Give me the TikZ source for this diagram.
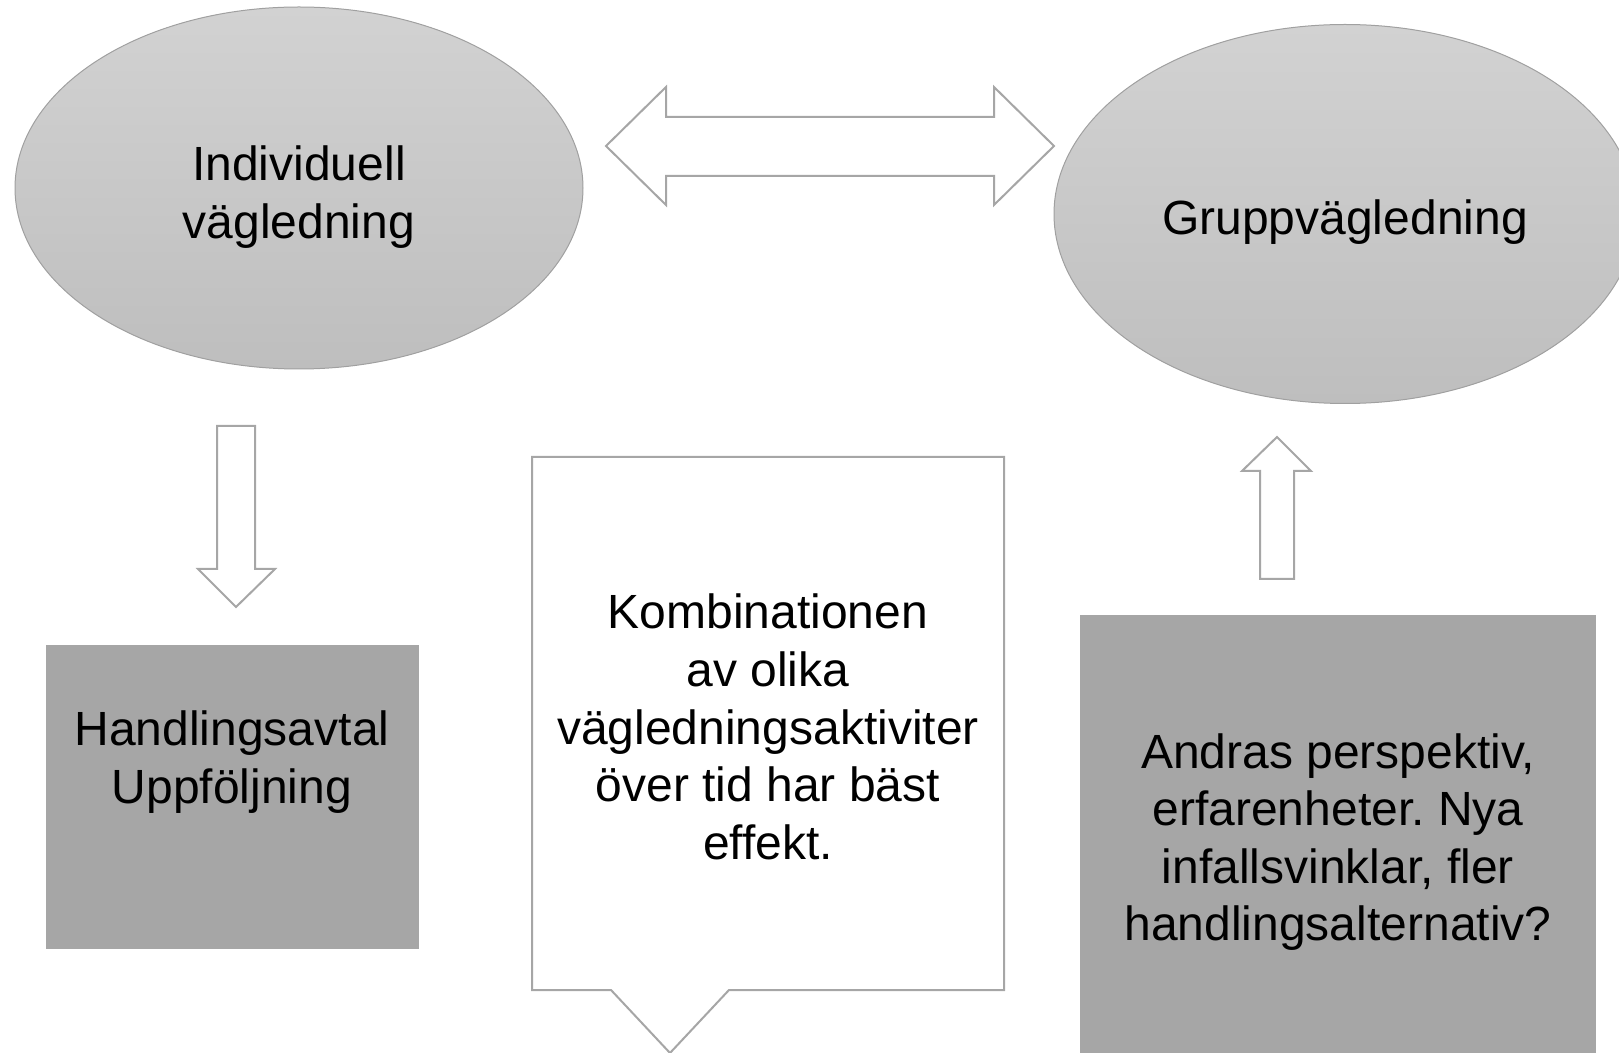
\documentclass[tikz,border=0pt]{standalone}
\usepackage{fontspec}
\setmainfont{Liberation Sans}
\frenchspacing
\usetikzlibrary{shapes.geometric}
\definecolor{vgline} {RGB}{166,166,166}
\definecolor{vgedge} {RGB}{160,160,160}
\definecolor{vgtop}  {RGB}{210,210,210}
\definecolor{vgbot}  {RGB}{190,190,190}
\definecolor{vgbox}  {RGB}{166,166,166}
\tikzset{form oval/.style={
    ellipse, inner sep=0pt,
    draw=vgedge, line width=0.5pt,
    top color=vgtop, bottom color=vgbot
}}
\tikzset{note box/.style={
    rectangle, inner sep=0pt,
    fill=vgbox,
    align=center, node font=\fontsize{24}{28.8}\selectfont
}}
\tikzset{body text/.style={
    inner sep=0pt,
    align=center, node font=\fontsize{24}{28.8}\selectfont
}}
\tikzset{hollow arrow/.style={
    draw=vgline, fill=white, line width=1pt, line join=miter
}}
\tikzset{callout line/.style={
    draw=vgline, fill=white, line width=1pt, line join=miter
}}

\begin{document}
\begin{tikzpicture}[x=0.5pt,y=-0.5pt]
            \useasboundingbox (0,0) rectangle (1619,1053);
            \clip (0,0) rectangle (1619,1053);

            \node (indiv)  [form oval, minimum width=284pt, minimum height=181pt]  at(299,188)  {};
            \node (indivtext) [body text] at(299,197) {Individuell\\vägledning};
            \node (group)  [form oval, minimum width=291pt, minimum height=189.5pt] at(1345,214) {};
            \node (grouptext) [body text] at(1345,222) {Gruppvägledning};

            \node (plan)   [note box, minimum width=186.5pt, minimum height=152pt] at(232.5,797) {};
            \node (plantext) [body text] at(232,762) {Handlingsavtal\\Uppföljning};
            \node (others) [note box, minimum width=258pt, minimum height=227pt]   at(1338,842)
                {Andras perspektiv,\\erfarenheter. Nya\\infallsvinklar, fler\\handlingsalternativ?};

            % callout
            \draw [callout line] (532,457) -- (1004,457) -- (1004,990) -- (729,990)
                -- (670,1053) -- (611,990) -- (532,990) -- cycle;
            \node (combo)  [body text] at(768,727)
                {Kombinationen\\av olika\\vägledningsaktiviter\\över tid har bäst\\effekt.};

            % block arrows
            \draw [hollow arrow] (606,146) -- (666,87) -- (666,117) -- (994,117) -- (994,87)
                -- (1054,146) -- (994,205) -- (994,176) -- (666,176) -- (666,205) -- cycle;
            \draw [hollow arrow] (217,426) -- (255,426) -- (255,569) -- (275,569)
                -- (236,607) -- (198,569) -- (217,569) -- cycle;
            \draw [hollow arrow] (1260,579) -- (1294,579) -- (1294,471) -- (1311,471)
                -- (1277,437) -- (1242,471) -- (1260,471) -- cycle;
        \end{tikzpicture}
\end{document}
